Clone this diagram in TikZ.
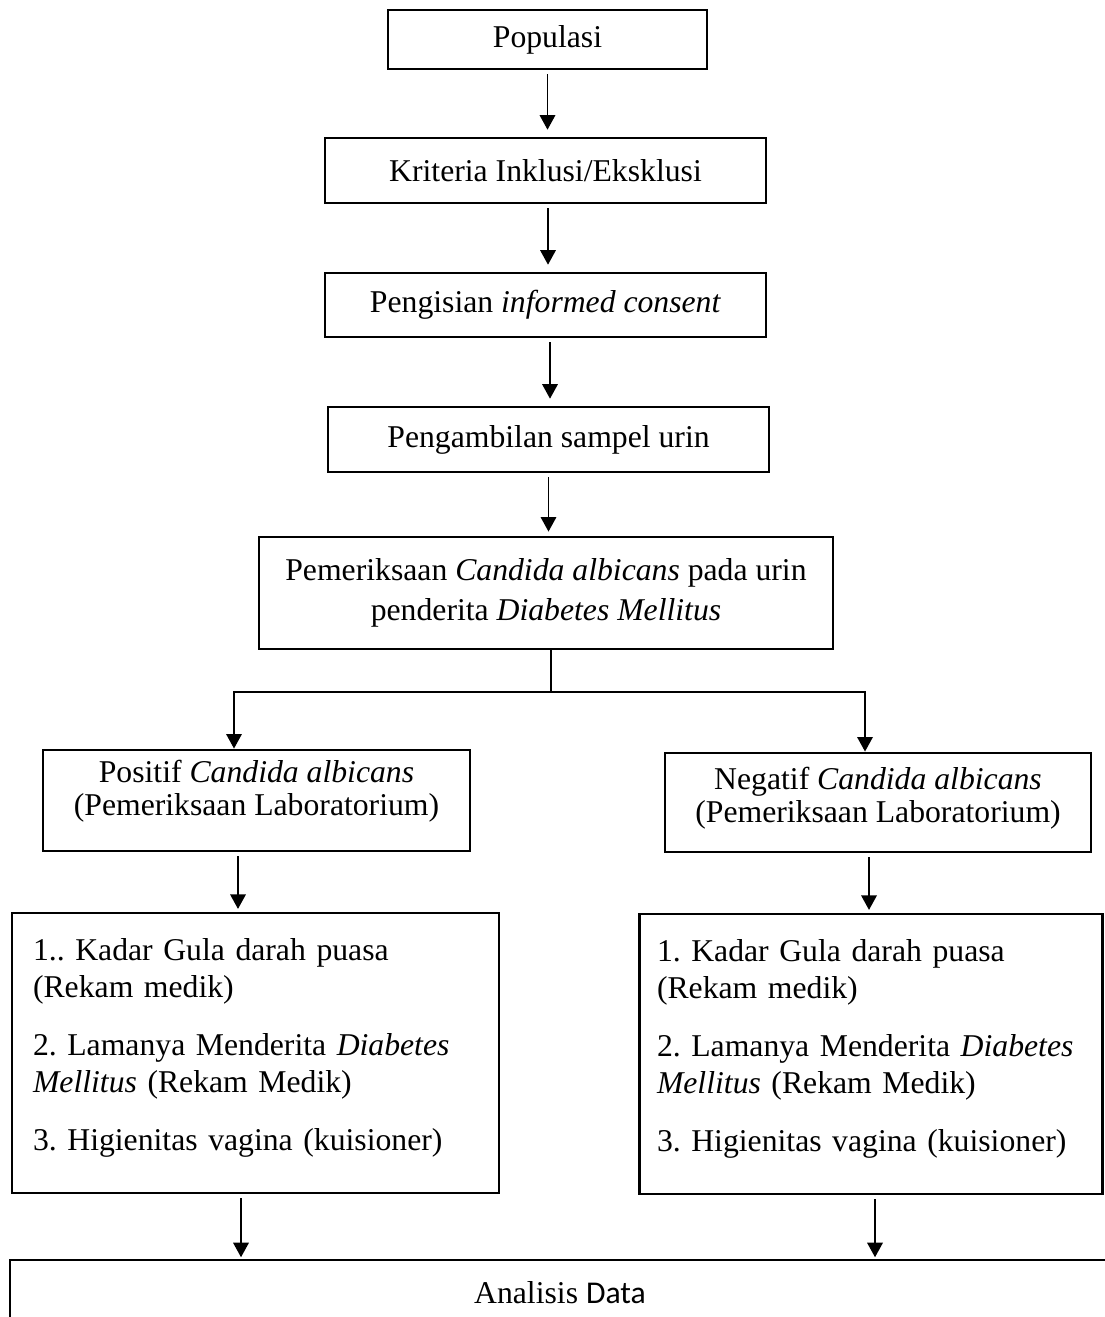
\documentclass[tikz,border=0pt]{standalone}
\usepackage{fontspec}
\setmainfont{Liberation Serif}
\newfontfamily\calibri{Carlito}
\usetikzlibrary{arrows.meta}

\newdimen\px
\px=0.3785pt

\tikzset{
  kotak/.style={draw, line width=1.1pt, align=center, inner sep=0pt,
    font=\fontsize{12}{12.6}\selectfont\frenchspacing},
  daftar/.style={kotak, align=left, font=\fontsize{12}{14}\selectfont\frenchspacing},
  panah/.style={-{Triangle[length=5.5pt,width=5.9pt]}, line width=0.55pt,
    shorten <=1.5pt},
  garis/.style={line width=0.5pt},
}

\begin{document}
\begin{tikzpicture}[x=0.3785pt, y=-0.3785pt]
  \path[use as bounding box, fill=white] (0,0) rectangle (1104,1317);

  \node[kotak, minimum width=319\px, minimum height=59\px] (populasi) at (547.5,39.5) {Populasi};
  \node[kotak, minimum width=441\px, minimum height=65\px] (kriteria) at (545.5,170.5) {Kriteria Inklusi/Eksklusi};
  \node[kotak, minimum width=441\px, minimum height=64\px] (consent) at (545.5,305) {Pengisian \textit{informed consent}};
  \node[kotak, minimum width=441\px, minimum height=65\px] (sampel) at (548.5,439.5) {Pengambilan sampel urin};
  \node[kotak, minimum width=574\px, minimum height=112\px, font=\fontsize{12}{15}\selectfont] (periksa) at (546,593)
    {Pemeriksaan \textit{Candida albicans} pada urin\\penderita \textit{Diabetes Mellitus}};

  \node[kotak, minimum width=427\px, minimum height=101\px] (positif) at (256.5,800.5)
    {Positif \textit{Candida albicans}\\(Pemeriksaan Laboratorium)\rule[-9.5pt]{0pt}{0pt}};
  \node[kotak, minimum width=426\px, minimum height=99\px] (negatif) at (878,802.5)
    {Negatif \textit{Candida albicans}\\(Pemeriksaan Laboratorium)\rule[-6pt]{0pt}{0pt}};

  \node[daftar, minimum width=487\px, minimum height=280\px, text width=168.4pt] (listpos) at (255.5,1053)
    {1.. Kadar Gula darah puasa\\(Rekam medik)\\[8pt]
     2. Lamanya Menderita \textit{Diabetes}\\\textit{Mellitus} (Rekam Medik)\\[8pt]
     3. Higienitas vagina (kuisioner)\rule[-6.7pt]{0pt}{0pt}};
  \node[daftar, minimum width=463\px, minimum height=280\px, text width=162pt] (listneg) at (871,1054)
    {1. Kadar Gula darah puasa\\(Rekam medik)\\[8pt]
     2. Lamanya Menderita \textit{Diabetes}\\\textit{Mellitus} (Rekam Medik)\\[8pt]
     3. Higienitas vagina (kuisioner)\rule[-6.7pt]{0pt}{0pt}};

  \node[kotak, minimum width=1100\px, minimum height=66\px] (analisis) at (560,1293)
    {Analisis {\calibri Data}};

  \draw[panah, shorten >=2.6pt] (populasi.south) -- (populasi.south |- kriteria.north);
  \draw[panah, shorten >=2.6pt] ([xshift=2.5\px]kriteria.south) -- ([xshift=2.5\px]kriteria.south |- consent.north);
  \draw[panah, shorten >=2.6pt] ([xshift=4.5\px]consent.south) -- ([xshift=4.5\px]consent.south |- sampel.north);
  \draw[panah, shorten >=1.5pt] (sampel.south) -- (sampel.south |- periksa.north);

  \coordinate (cabang) at (551,692);
  \coordinate (cabangkiri) at (233,692);
  \coordinate (cabangkanan) at (866,692);
  \draw[garis] (periksa.south -| cabang) -- (cabang);
  \draw[garis] (cabangkiri) -- (cabangkanan);
  \draw[panah, shorten <=0pt] ([xshift=1\px]cabangkiri) -- ([xshift=1\px]cabangkiri |- positif.north);
  \draw[panah, shorten <=0pt] ([xshift=-1\px]cabangkanan) -- ([xshift=-1\px]cabangkanan |- negatif.north);

  \draw[panah, shorten >=1pt] ([xshift=-18.5\px]positif.south) -- ([xshift=-18.5\px]positif.south |- listpos.north);
  \draw[panah, shorten >=1pt] ([xshift=-9\px]negatif.south) -- ([xshift=-9\px]negatif.south |- listneg.north);
  \draw[panah, shorten >=0.5pt] ([xshift=-14.5\px]listpos.south) -- ([xshift=-14.5\px]listpos.south |- analisis.north);
  \draw[panah, shorten >=0.5pt] ([xshift=4\px]listneg.south) -- ([xshift=4\px]listneg.south |- analisis.north);
\end{tikzpicture}
\end{document}
